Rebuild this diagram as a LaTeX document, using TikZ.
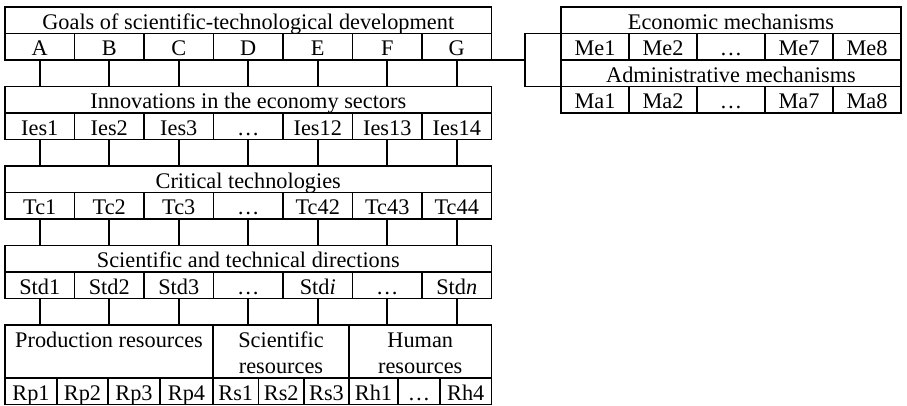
\documentclass[tikz,border=0pt]{standalone}
\usepackage{fontspec}
\setmainfont{Liberation Serif}
\usetikzlibrary{calc}

\begin{document}
\begin{tikzpicture}[x=1pt, y=1pt, line width=1.6pt]
        \tikzstyle{cell}=[draw, shape=rectangle, inner sep=0pt, outer sep=0pt, minimum width=69.5pt, minimum height=26.5pt, text height=21pt, text depth=3pt, font=\fontsize{22.3}{26.5}\selectfont];
        \tikzstyle{head}=[cell, minimum width=486.5pt];
        \tikzstyle{res_head}=[cell, minimum height=53pt, align=center, text height=47.5pt, text depth=3pt];
        \tikzstyle{mech}=[cell, minimum width=68pt];
        \tikzstyle{link}=[draw, line width=1.6pt];
        \useasboundingbox (0,0) rectangle (907,-405);

        % Goals
        \node[head] (goals) at (248.25, -20.25) {Goals of scientific-technological development};
        \foreach \t [count=\i] in {A, B, C, D, E, F, G}{
          \node[cell] at (5+69.5*\i-34.75, -46.75) (g\i) {\t};
        }

        % Innovations
        \node[head] (ies) at (248.25, -99.75) {Innovations in the economy sectors};
        \foreach \t [count=\i] in {Ies1, Ies2, Ies3, \ldots, Ies12, Ies13, Ies14}{
          \node[cell] at (5+69.5*\i-34.75, -126.25) (ies\i) {\t};
        }

        % Critical technologies
        \node[head] (tc) at (248.25, -179.25) {Critical technologies};
        \foreach \t [count=\i] in {Tc1, Tc2, Tc3, \ldots, Tc42, Tc43, Tc44}{
          \node[cell] at (5+69.5*\i-34.75, -205.75) (tc\i) {\t};
        }

        % Sci. and tech. directions
        \node[head] (std) at (248.25, -258.75) {Scientific and technical directions};
        \foreach \t [count=\i] in {Std1, Std2, Std3, \ldots, Std\textit{i}, \ldots, Std\textit{n}}{
          \node[cell] at (5+69.5*\i-34.75, -285.25) (std\i) {\t};
        }

        % resources
        \node[res_head, minimum width=208pt, text height=21pt, text depth=29.5pt] (rp) at (109, -351.5) {Production resources};
        \node[res_head, minimum width=136pt] (rs) at (281, -351.5) {Scientific\\resources};
        \node[res_head, minimum width=142.5pt] (rh) at (420.25, -351.5) {Human\\resources};
        \foreach \a/\b/\t [count=\i] in {5/57/Rp1, 57/108/Rp2, 108/160/Rp3, 160/213/Rp4,
                                         213/258.5/Rs1, 258.5/304/Rs2, 304/349/Rs3,
                                         349/398/Rh1, 398/440/\ldots, 440/491.5/Rh4}{
          \node[cell, minimum width=\b-\a] at ({(\a+\b)/2}, -391.25) (r\i) {\t};
        }

        % links between the rows
        \foreach \i in {1,...,7}{
          \draw[link] (g\i.south) -- (g\i.south |- ies.north);
          \draw[link] (ies\i.south) -- (ies\i.south |- tc.north);
          \draw[link] (tc\i.south) -- (tc\i.south |- std.north);
          \draw[link] (std\i.south) -- (std\i.south |- rp.north);
        }

        % mechanisms
        \node[cell, minimum width=340pt] (econ) at (731, -20.25) {Economic mechanisms};
        \foreach \t [count=\i] in {Me1, Me2, \ldots, Me7, Me8}{
          \node[mech] at (561+68*\i-34, -46.75) (me\i) {\t};
        }
        \node[cell, minimum width=340pt] (admin) at (731, -73.25) {Administrative mechanisms};
        \foreach \t [count=\i] in {Ma1, Ma2, \ldots, Ma7, Ma8}{
          \node[mech] at (561+68*\i-34, -99.75) (ma\i) {\t};
        }

        % bracket
        \coordinate (brk) at (525, -60);
        \draw[link] (g7.south east) -- (brk);
        \draw[link] (econ.south west) -| (brk) |- (admin.south west);
\end{tikzpicture}
\end{document}
